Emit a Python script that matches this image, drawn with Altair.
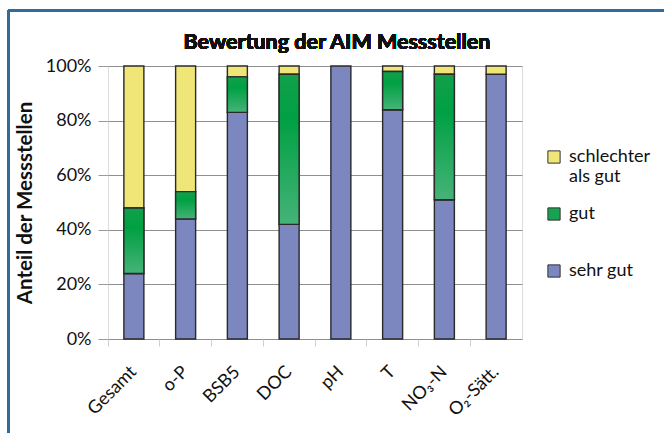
import altair as alt
import pandas as pd

# Share of monitoring sites per rating class (percent)
categories = ["Gesamt", "o-P", "BSB5", "DOC", "pH", "T", "NO₃-N", "O₂-Sätt."]
sehr_gut = [24, 44, 83, 42, 100, 84, 51, 97]
gut = [24, 10, 13, 55, 0, 14, 46, 0]
schlechter = [52, 46, 4, 3, 0, 2, 3, 3]

classes = ["schlechter als gut", "gut", "sehr gut"]
class_colors = ["#F0E678", "#17A452", "#7B87BE"]
stack_order = {"sehr gut": 0, "gut": 1, "schlechter als gut": 2}

rows = []
for i, cat in enumerate(categories):
    for cls, vals in (("sehr gut", sehr_gut), ("gut", gut), ("schlechter als gut", schlechter)):
        if vals[i] > 0:
            rows.append({"Parameter": cat, "Klasse": cls, "Anteil": vals[i] / 100,
                         "Reihe": stack_order[cls]})
df = pd.DataFrame(rows)

FONT = "Lato"
W, H = 414, 273

x_enc = alt.X("Parameter:N", sort=categories, title=None,
              scale=alt.Scale(paddingInner=0, paddingOuter=0),
              axis=alt.Axis(labelAngle=-45, labelAlign="right", labelBaseline="middle",
                            labelFontSize=18, labelFont=FONT, labelColor="#111",
                            labelPadding=23, tickSize=7, tickColor="#cfcfcf",
                            bandPosition=0, domain=False, grid=False))
y_enc = alt.Y("y0:Q", title="Anteil der Messstellen",
              scale=alt.Scale(domain=[0, 1]),
              axis=alt.Axis(format="%", values=[0, 0.2, 0.4, 0.6, 0.8, 1.0],
                            labelFontSize=18, labelFont=FONT, labelColor="#111",
                            labelPadding=7, tickSize=10, tickColor="#9a9a9a",
                            gridColor="#8f8f8f", gridWidth=1, domain=False,
                            titleFont=FONT, titleFontSize=20.5, titleFontWeight="bold",
                            titleColor="#111", titlePadding=10))

base = alt.Chart(df).transform_stack(
    stack="Anteil", groupby=["Parameter"], as_=["y0", "y1"],
    sort=[alt.SortField("Reihe", order="ascending")]
)

bars = base.mark_bar(width=20, stroke="#2a2a2a", strokeWidth=1.4).encode(
    x=x_enc,
    y=y_enc,
    y2="y1:Q",
    color=alt.Color("Klasse:N",
                    scale=alt.Scale(domain=classes, range=class_colors),
                    legend=alt.Legend(orient="none", legendX=437, legendY=82, title=None,
                                      symbolType="square", symbolSize=150,
                                      symbolStrokeColor="#333", symbolStrokeWidth=1,
                                      labelFont=FONT, labelFontSize=18, labelColor="#111",
                                      labelExpr="datum.label == 'schlechter als gut' ? ['schlechter', 'als gut'] : [datum.label, ' ']",
                                      rowPadding=19, labelOffset=6)),
)

green = alt.Gradient(
    gradient="linear", x1=0, y1=0, x2=0, y2=1,
    stops=[alt.GradientStop(color="#12A04A", offset=0),
           alt.GradientStop(color="#00A043", offset=0.3),
           alt.GradientStop(color="#46B378", offset=1)],
)
gut_bars = base.transform_filter(alt.datum.Klasse == "gut").mark_bar(
    width=20, fill=green, stroke="#2a2a2a", strokeWidth=1.4
).encode(x=alt.X("Parameter:N", sort=categories), y="y0:Q", y2="y1:Q")

# chart heading, centred over the whole figure
heading = alt.Chart(df).mark_text(
    text="Bewertung der AIM Messstellen", font=FONT, fontSize=21.5, fontWeight="bold",
    color="#111", align="center", baseline="alphabetic"
).encode(x=alt.value(229), y=alt.value(-17))

# blue frame around the figure
frame_top = alt.Chart(df).mark_rule(color="#2E6CA2", strokeWidth=2.2).encode(
    x=alt.value(-100), x2=alt.value(600), y=alt.value(-55.5))
frame_left = alt.Chart(df).mark_rule(color="#2E6CA2", strokeWidth=2.2).encode(
    x=alt.value(-99.5), y=alt.value(-56), y2=alt.value(400))

chart = alt.layer(bars, gut_bars, heading, frame_top, frame_left).properties(
    width=W, height=H,
    padding={"left": 108, "top": 66, "right": 142, "bottom": 94},
    autosize=alt.AutoSizeParams(type="none"),
).configure_view(fill="#BBBBBB", stroke="#9a9a9a", strokeWidth=1
).configure(background="white")

chart.save("out.html", embed_options={"renderer": "svg", "actions": False})
